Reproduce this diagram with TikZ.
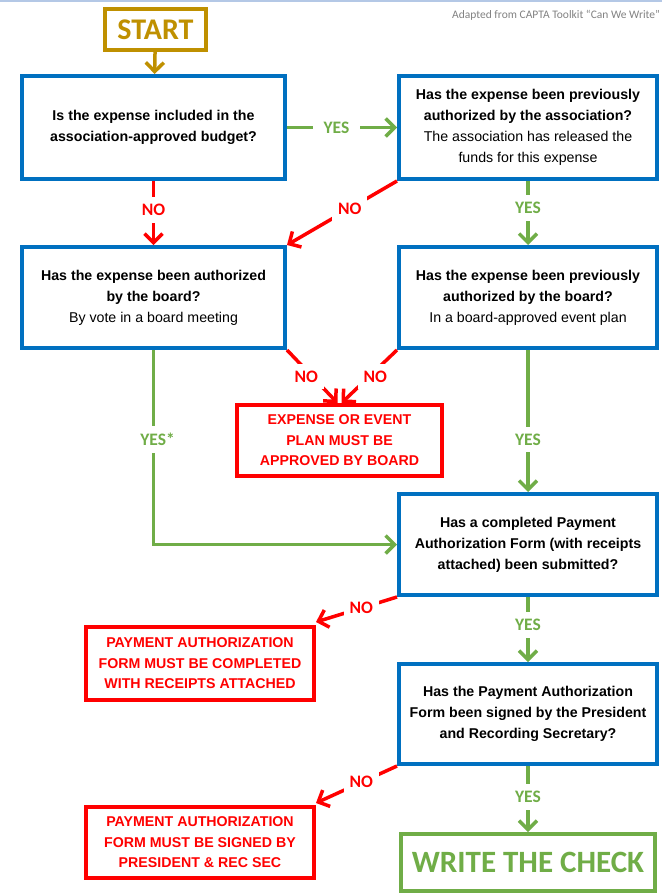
\documentclass[tikz,border=0pt]{standalone}
\usepackage{fontspec}
\setmainfont{Liberation Sans}
\newfontfamily\calfont{Carlito}
\usetikzlibrary{arrows.meta}
\definecolor{cblue}{RGB}{0,112,192}
\definecolor{cgreen}{RGB}{112,173,71}
\definecolor{cred}{RGB}{255,0,0}
\definecolor{cgold}{RGB}{191,144,0}
\definecolor{ctop}{RGB}{180,200,230}
\definecolor{cgray}{RGB}{130,130,130}
\begin{document}
\begin{tikzpicture}[x=1pt,y=-1pt,
  qbox/.style={draw=cblue, line width=4pt, minimum width=258pt, minimum height=101pt,
    align=center, inner sep=0pt, font=\fontsize{14.2}{20.9}\selectfont},
  rbox/.style={draw=cred, line width=4pt, minimum width=228pt, minimum height=71pt,
    align=center, inner sep=0pt, text=cred, font=\bfseries\fontsize{14.2}{20.6}\selectfont},
  lbl/.style={fill=white, inner xsep=6pt, inner ysep=7pt,
    font=\calfont\bfseries\fontsize{17.5}{17.5}\selectfont},
  yesarr/.style={draw=cgreen, line width=3.5pt, -{Straight Barb[length=9pt,width=18pt]}},
  noarr/.style={draw=cred, line width=3.5pt, -{Straight Barb[length=9pt,width=18pt]}},
  yeslbl/.style={lbl, text=cgreen},
  nolbl/.style={lbl, text=cred}
]
\useasboundingbox (0,0) rectangle (662,894);
\fill[white] (0,0) rectangle (662,894);
\draw[ctop, line width=1.5pt] (0,0.75) -- (662,0.75);

\node[anchor=base west, text=cgray, inner sep=0pt, font=\calfont\fontsize{11.5}{11.5}\selectfont]
  (src) at (452,18) {Adapted from CAPTA Toolkit “Can We Write”};

\node[draw=cgold, line width=4pt, minimum width=101pt, minimum height=41pt, inner sep=0pt,
  text=cgold, font=\calfont\bfseries\fontsize{30}{30}\selectfont] (start) at (155.5,29.5) {START};

\node[qbox, minimum width=263pt, minimum height=103pt] (b1) at (153.5,127.5)
  {\textbf{Is the expense included in the}\\\textbf{association-approved budget?}};
\node[qbox, minimum height=103pt] (b2) at (528,127.5)
  {\textbf{Has the expense been previously}\\\textbf{authorized by the association?}\\The association has released the\\funds for this expense};
\node[qbox, minimum width=263pt] (b3) at (153.5,297.5)
  {\textbf{Has the expense been authorized}\\\textbf{by the board?}\\By vote in a board meeting};
\node[qbox] (b4) at (528,297.5)
  {\textbf{Has the expense been previously}\\\textbf{authorized by the board?}\\In a board-approved event plan};
\node[rbox, minimum width=205pt] (r5) at (339.5,440.5)
  {EXPENSE OR EVENT\\PLAN MUST BE\\APPROVED BY BOARD};
\node[qbox] (b6) at (528,544.5)
  {\textbf{Has a completed Payment}\\\textbf{Authorization Form (with receipts}\\\textbf{attached) been submitted?}};
\node[rbox, minimum height=73pt] (r7) at (200,663.5)
  {PAYMENT AUTHORIZATION\\FORM MUST BE COMPLETED\\WITH RECEIPTS ATTACHED};
\node[qbox, minimum height=100pt] (b8) at (528,714)
  {\textbf{Has the Payment Authorization}\\\textbf{Form been signed by the President}\\\textbf{and Recording Secretary?}};
\node[rbox] (r10) at (200,842.5)
  {PAYMENT AUTHORIZATION\\FORM MUST BE SIGNED BY\\PRESIDENT \& REC SEC};
\node[draw=cgreen, line width=4pt, minimum width=254pt, minimum height=57pt, inner sep=0pt,
  text=cgreen, font=\calfont\bfseries\fontsize{31}{31}\selectfont] (g9) at (528,862.5) {WRITE THE CHECK};

% connectors
\draw[draw=cgold, line width=3.5pt, -{Straight Barb[length=9pt,width=18pt]}] (start) -- (b1);
\draw[yesarr] (b1) -- node[yeslbl, pos=0.45, inner xsep=11pt] {YES} (b2);
\draw[noarr] (b1) -- node[nolbl, pos=0.45] {NO} (b3);
\draw[noarr] (b2.south west) -- node[nolbl, pos=0.43] {NO} (b3.north east);
\draw[yesarr] (b2) -- node[yeslbl, pos=0.42] {YES} (b4);
\draw[noarr] (b3.south east) -- node[nolbl, pos=0.5, xshift=-6pt] {NO} ([xshift=-2pt]r5.north);
\draw[noarr] (b4.south west) -- node[nolbl, pos=0.5, xshift=6pt] {NO} ([xshift=2pt]r5.north);
\draw[yesarr] (b3) |- node[yeslbl, pos=0.23, xshift=4pt] {YES*} (b6);
\draw[yesarr] (b4) -- node[yeslbl, pos=0.63] {YES} (b6);
\draw[noarr] (b6.south west) -- node[nolbl, pos=0.44] {NO} ([yshift=3pt]r7.north east);
\draw[yesarr] (b6) -- node[yeslbl, pos=0.43] {YES} (b8);
\draw[noarr] (b8.south west) -- node[nolbl, pos=0.44] {NO} ([yshift=2pt]r10.north east);
\draw[yesarr] (b8) -- node[yeslbl, pos=0.47] {YES} (g9);
\end{tikzpicture}
\end{document}
